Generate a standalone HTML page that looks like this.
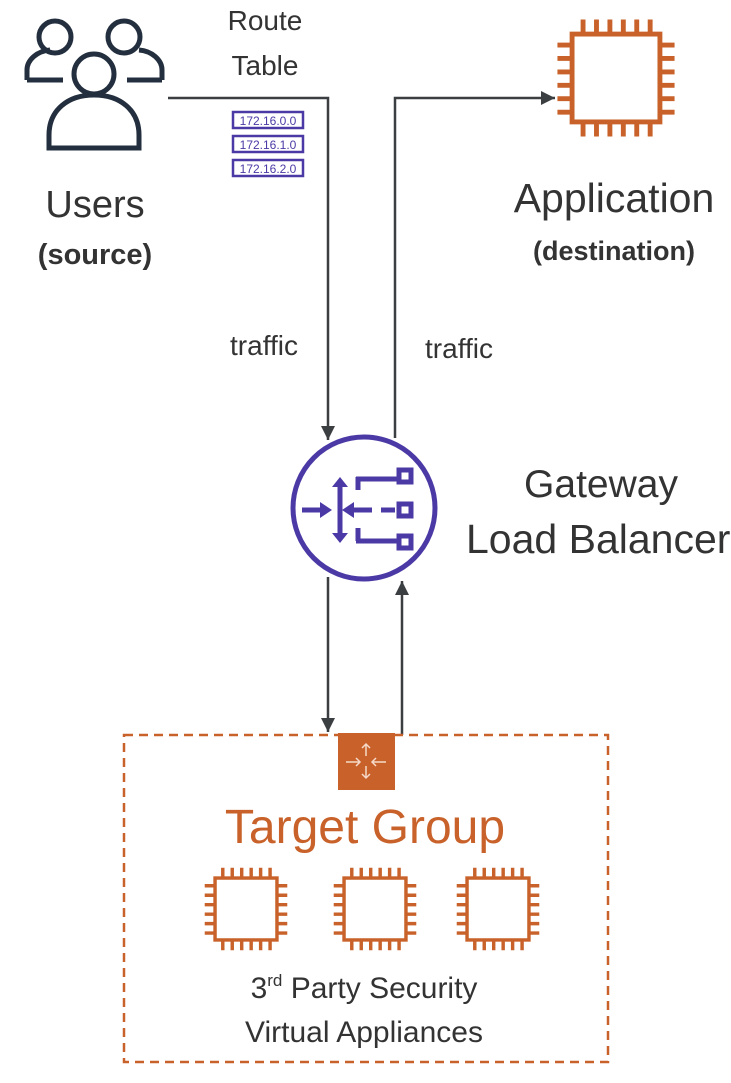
<!DOCTYPE html>
<html><head><meta charset="utf-8"><style>
body{margin:0;background:#fff;}
svg text{font-family:"Liberation Sans",sans-serif;}
</style></head><body>
<svg width="731" height="1078" viewBox="0 0 731 1078" xmlns="http://www.w3.org/2000/svg">
<defs>
<symbol id="chip" viewBox="0 0 100 100">
<g fill="none" stroke="#c8622a" stroke-width="4">
<rect x="14" y="14" width="72" height="72"/>
<path d="M23 14V2M34 14V2M45 14V2M56 14V2M67 14V2M78 14V2M23 86V98M34 86V98M45 86V98M56 86V98M67 86V98M78 86V98M14 23H2M14 34H2M14 45H2M14 56H2M14 67H2M14 78H2M86 23H98M86 34H98M86 45H98M86 56H98M86 67H98M86 78H98"/>
</g>
</symbol>
<marker id="ah" markerWidth="16" markerHeight="16" refX="14" refY="7" orient="auto" markerUnits="userSpaceOnUse" viewBox="0 0 16 14"><path d="M0 0L14 7L0 14z" fill="#3b3f41"/></marker>
</defs>
<g fill="none" stroke="#232f3e" stroke-width="5">
<circle cx="55" cy="37" r="16"/>
<path d="M27 80V70C27 60 37 51 50 50"/>
<circle cx="124" cy="37" r="16"/>
<path d="M162 80V70C162 60 152 51 139 50"/>
<path d="M27 80H63M127 80H162"/>
<circle cx="94" cy="74" r="20"/>
<path d="M49 148V135C49 110 68 95 94 95C120 95 139 110 139 135V148Z"/>
</g>
<text x="95" y="217" font-size="38" fill="#333" text-anchor="middle">Users</text>
<text x="95" y="264" font-size="29" font-weight="bold" fill="#333" text-anchor="middle">(source)</text>
<text x="265" y="30" font-size="28" fill="#333" text-anchor="middle">Route</text>
<text x="265" y="75" font-size="28" fill="#333" text-anchor="middle">Table</text>
<g fill="#fff" stroke="#4b3aa6" stroke-width="2.5">
<rect x="233" y="112" width="70" height="16"/><rect x="233" y="136" width="70" height="16"/><rect x="233" y="160" width="70" height="16"/>
</g>
<g font-size="12" fill="#4b3aa6" text-anchor="middle">
<text x="268" y="125">172.16.0.0</text><text x="268" y="149">172.16.1.0</text><text x="268" y="173">172.16.2.0</text>
</g>
<g stroke="#3b3f41" stroke-width="2.5" fill="none">
<path d="M168 98H328V440" marker-end="url(#ah)"/>
<path d="M395 438V98H555" marker-end="url(#ah)"/>
<path d="M328 577V732" marker-end="url(#ah)"/>
<path d="M402 735V581" marker-end="url(#ah)"/>
</g>
<text x="264" y="355" font-size="28" fill="#333" text-anchor="middle">traffic</text>
<text x="459" y="358" font-size="28" fill="#333" text-anchor="middle">traffic</text>
<use href="#chip" x="555" y="17" width="122" height="122"/>
<text x="614" y="212" font-size="41" fill="#333" text-anchor="middle">Application</text>
<text x="614" y="260" font-size="27" font-weight="bold" fill="#333" text-anchor="middle">(destination)</text>
<circle cx="364" cy="508" r="71" fill="#fff" stroke="#4b3aa6" stroke-width="5"/>
<g stroke="#4b3aa6" stroke-width="5" fill="none">
<path d="M302 510H326M340 485V535M348 510H372M381 510H395M358 477V490M356 479H400M356 541H400M358 528V541"/>
<rect x="399" y="470" width="12" height="12"/><rect x="399" y="504" width="12" height="12"/><rect x="399" y="536" width="12" height="12"/>
</g>
<g fill="#4b3aa6">
<path d="M320 502L332 510L320 518z"/><path d="M354 502L342 510L354 518z"/>
<path d="M332 487L340 477L348 487z"/><path d="M332 533L340 543L348 533z"/>
</g>
<text x="601" y="497" font-size="39" fill="#333" text-anchor="middle">Gateway</text>
<text x="466" y="553" font-size="41" fill="#333">Load Balancer</text>
<rect x="124" y="735" width="484" height="327" fill="none" stroke="#c8622a" stroke-width="2.5" stroke-dasharray="9,6"/>
<rect x="338" y="733" width="57" height="57" fill="#c8622a"/>
<g stroke="#f6d9c8" stroke-width="1.5" fill="none">
<path d="M366 744V756M362 748L366 744L370 748M366 766V778M362 774L366 778L370 774M346 762H360M356 758L360 762L356 766M386 762H372M376 758L372 762L376 766"/>
</g>
<text x="365" y="843" font-size="48" fill="#c8622a" text-anchor="middle">Target Group</text>
<use href="#chip" x="203" y="866" width="86" height="86"/>
<use href="#chip" x="332" y="866" width="86" height="86"/>
<use href="#chip" x="455" y="866" width="86" height="86"/>
<text x="364" y="998" font-size="30" fill="#333" text-anchor="middle">3<tspan font-size="17" dy="-12">rd</tspan><tspan dy="12"> Party Security</tspan></text>
<text x="364" y="1042" font-size="30" fill="#333" text-anchor="middle">Virtual Appliances</text>
</svg>
</body></html>
